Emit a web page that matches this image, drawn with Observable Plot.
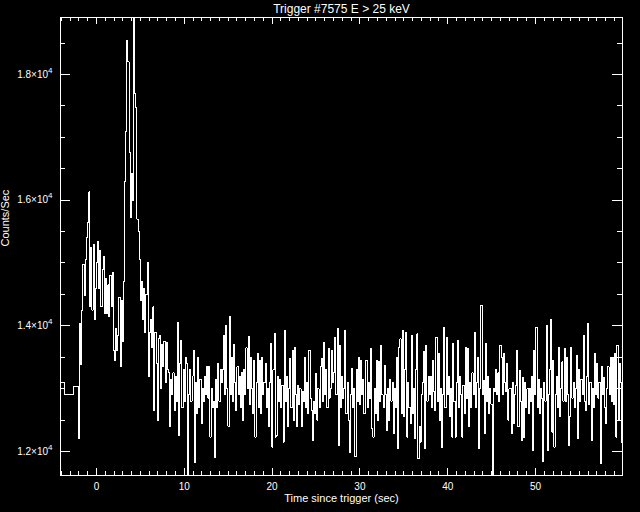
<!DOCTYPE html>
<html><head><meta charset="utf-8">
<script src="https://cdn.jsdelivr.net/npm/d3@7"></script>
<script src="https://cdn.jsdelivr.net/npm/@observablehq/plot@0.6"></script>
<style>html,body{margin:0;padding:0;background:#000;overflow:hidden;} #chart svg{display:block;}</style>
</head><body><div id="chart"></div>
<script>
const chartTitle = "Trigger #7575 E > 25 keV";
const xTitle = "Time since trigger (sec)";
const yTitle = "Counts/Sec";
const xMajorTicks = [0, 10, 20, 30, 40, 50];
const xTickLabels = ["0", "10", "20", "30", "40", "50"];
const yMajorTicks = [12000, 14000, 16000, 18000];
const yTickLabels = ["1.2×10⁴", "1.4×10⁴", "1.6×10⁴", "1.8×10⁴"];
const xMinorTicks = d3.range(-4, 60, 1);
const yMinorTicks = d3.range(12000, 19000, 500);
const xDomain = [-4.096, 59.904];
const yDomain = [11618, 18907];

// pre-trigger coarse bins (start times, counts/s)
const preBinStarts = [-4.096, -3.6, -2.64];
const preCounts = [13106, 12910, 13037];

// fine-resolution bins from -2.048 s, 0.128 s each
const fineStart = -2.048;
const fineBinWidth = 0.128;
const fineCounts = [
12210, 14040, 13380, 14250, 14980, 14480, 15050, 15400,
15650, 16130, 14300, 15250, 14250, 15300, 14100, 14600,
15000, 15350, 14600, 15200, 14300, 14900, 15100, 14200,
14750, 14200, 14650, 14150, 14800, 14300, 14850, 13600,
13450, 13950, 13600, 13850, 14450, 13350, 14400, 13750,
14700, 16300, 17100, 18540, 18200, 16760, 15720, 16420,
16000, 18907, 17700, 17480, 15700, 15500, 15050, 14400,
14700, 14100, 14600, 13900, 14500, 15010, 13200, 13900,
14100, 13650, 14300, 12650, 13900, 13400, 12500, 13800,
13850, 13000, 13700, 13350, 13750, 13100, 13740, 13300,
13250, 12400, 13150, 12900, 13250, 12650, 13200, 12800,
14050, 12250, 13400, 13770, 12700, 13300, 12800, 13500,
13400, 11618, 12900, 13300, 12800, 13200, 13610, 11830,
13100, 12600, 13500, 12700, 13150, 12450, 13000, 12800,
13200, 12900, 13350, 12850, 13350, 12230, 13000, 12700,
12800, 11900, 13150, 12700, 13400, 12800, 13300, 13100,
13300, 13850, 12900, 14010, 13000, 12400, 14150, 12900,
13500, 12800, 13700, 13100, 12650, 13350, 12900, 13200,
12700, 13250, 12500, 13300, 12900, 13650, 13000, 13830,
12750, 13500, 13000, 12600, 13450, 12230, 13100, 13560,
12700, 13450, 12600, 13500, 12900, 13100, 13400, 12700,
13000, 12390, 13100, 13720, 12070, 13300, 13875, 12230,
12250, 13200, 12800, 13150, 12700, 13050, 12150, 13930,
12800, 13200, 12390, 13000, 13480, 12700, 13610, 12500,
13660, 12900, 12390, 13050, 12750, 13000, 12400, 12950,
12800, 13500, 12700, 13100, 12600, 13610, 12850, 12650,
12180, 12800, 12600, 13240, 12500, 13000, 12700, 13350,
13480, 12800, 13740, 12900, 13300, 12700, 13640, 12850,
13000, 13600, 13100, 13250, 13820, 12900, 13955, 12100,
13690, 12700, 13200, 12850, 13000, 13930, 12600, 13100,
12500, 11990, 12900, 13320, 12700, 13000, 11913, 13300,
12800, 13500, 12750, 13450, 12900, 13150, 12600, 13450,
13450, 12700, 13100, 12850, 13635, 12365, 12230, 13000,
12600, 13450, 12500, 13425, 12800, 13690, 12900, 12700,
13370, 12900, 12340, 13000, 12500, 13150, 12800, 13100,
12290, 13000, 12700, 13500, 12050, 13660, 13795, 12600,
13930, 12550, 13300, 13900, 12230, 13100, 12700, 12450,
13850, 12600, 13000, 12200, 13300, 13870, 11890, 12400,
12150, 12900, 13100, 13585, 12045, 13690, 12800, 13200,
12900, 13200, 12700, 13450, 12950, 12650, 13820, 12800,
13560, 12500, 13000, 12070, 12900, 13980, 12700, 13820,
12900, 13200, 12550, 13000, 12230, 13720, 12800, 12230,
13100, 13770, 12700, 13200, 12900, 12230, 13050, 12600,
13660, 12850, 13640, 12390, 13100, 12700, 13250, 12900,
13890, 12700, 13100, 13500, 12045, 13000, 14325, 12900,
13130, 12290, 13720, 12800, 13200, 12600, 13000, 12750,
11640, 13000, 12950, 13300, 12900, 13250, 12800, 13690,
13500, 12900, 13560, 13100, 12950, 13400, 12500, 13000,
13000, 12290, 13100, 12450, 12900, 13050, 13610, 12390,
13290, 12800, 12180, 13180, 12230, 13100, 12700, 13000,
12600, 13000, 12800, 13200, 12020, 13610, 12900, 13980,
12700, 13150, 12600, 13000, 12850, 11834, 13100, 12800,
14008, 12020, 12900, 13300, 14100, 12310, 13450, 12070,
12900, 13200, 12700, 13660, 12550, 13000, 13425, 12800,
13640, 12800, 13500, 12900, 12100, 12550, 13660, 12850,
13100, 12700, 13000, 13530, 12205, 13300, 12800, 13150,
12900, 13850, 12800, 12650, 13200, 14045, 12750, 13100,
12180, 13000, 12700, 13560, 12900, 13400, 12850, 13100,
11810, 13350, 12900, 13180, 12700, 12440, 13000, 13350,
12900, 13500, 12800, 13500, 12750, 13560, 12230, 13690,
12500, 13400, 13100, 12140
];

const W = 640, H = 512, mL = 60, mR = 18, mT = 17, mB = 37;
const plotW = W - mL - mR, plotH = H - mT - mB;

const series = [
  ...preBinStarts.map((t, i) => ({t, c: preCounts[i]})),
  ...fineCounts.map((c, i) => ({t: fineStart + i * fineBinWidth, c}))
];
series.push({t: xDomain[1], c: fineCounts[fineCounts.length - 1]});

const font = "'Liberation Sans', Arial, sans-serif";
const white = "#fff";

const chart = Plot.plot({
  width: W, height: H,
  marginLeft: mL, marginRight: mR, marginTop: mT, marginBottom: mB,
  style: {background: "#000", color: white, fontFamily: font, fontSize: "10px"},
  x: {domain: xDomain},
  y: {domain: yDomain},
  marks: [
    Plot.line(series, {x: "t", y: "c", curve: "step-after", stroke: white, strokeWidth: 1, clip: true}),
    Plot.frame({stroke: white}),
    // x ticks, bottom & top (inward)
    Plot.tickX(xMinorTicks, {x: d => d, insetTop: plotH - 4, stroke: white}),
    Plot.tickX(xMinorTicks, {x: d => d, insetBottom: plotH - 4, stroke: white}),
    Plot.tickX(xMajorTicks, {x: d => d, insetTop: plotH - 7, stroke: white}),
    Plot.tickX(xMajorTicks, {x: d => d, insetBottom: plotH - 7, stroke: white}),
    // y ticks, left & right (inward)
    Plot.tickY(yMinorTicks, {y: d => d, insetRight: plotW - 5, stroke: white}),
    Plot.tickY(yMinorTicks, {y: d => d, insetLeft: plotW - 5, stroke: white}),
    Plot.tickY(yMajorTicks, {y: d => d, insetRight: plotW - 10, stroke: white}),
    Plot.tickY(yMajorTicks, {y: d => d, insetLeft: plotW - 10, stroke: white}),
    Plot.axisX(xMajorTicks, {tickSize: 0, tickPadding: 7, tickFormat: d => xTickLabels[xMajorTicks.indexOf(d)], fontSize: 10, label: null}),
    Plot.axisY(yMajorTicks, {tickSize: 0, tickPadding: 8, tickFormat: d => yTickLabels[yMajorTicks.indexOf(d)], fontSize: 10, label: null}),
    Plot.text([chartTitle], {text: d => d, frameAnchor: "top", lineAnchor: "bottom", dy: -5, fontSize: 12, ariaLabel: "chart-title"}),
    Plot.text([xTitle], {text: d => d, frameAnchor: "bottom", lineAnchor: "top", dy: 19, fontSize: 11}),
    Plot.text([yTitle], {text: d => d, frameAnchor: "left", rotate: -90, lineAnchor: "bottom", dx: -52, fontSize: 11})
  ]
});

d3.select(chart).selectAll("path, line, rect").attr("shape-rendering", "crispEdges");
d3.select(chart).selectAll('g[aria-label="chart-title"] text').style("letter-spacing", "1.2px");
// render the exponent as a real raised superscript
d3.select(chart).selectAll("text").each(function () {
  const s = this.textContent;
  if (s.includes("⁴")) {
    const sel = d3.select(this);
    sel.text(s.replace("⁴", ""));
    sel.append("tspan").attr("dy", "-5").attr("font-size", "8px").text("4");
  }
});
document.getElementById("chart").appendChild(chart);
</script>
</body></html>
